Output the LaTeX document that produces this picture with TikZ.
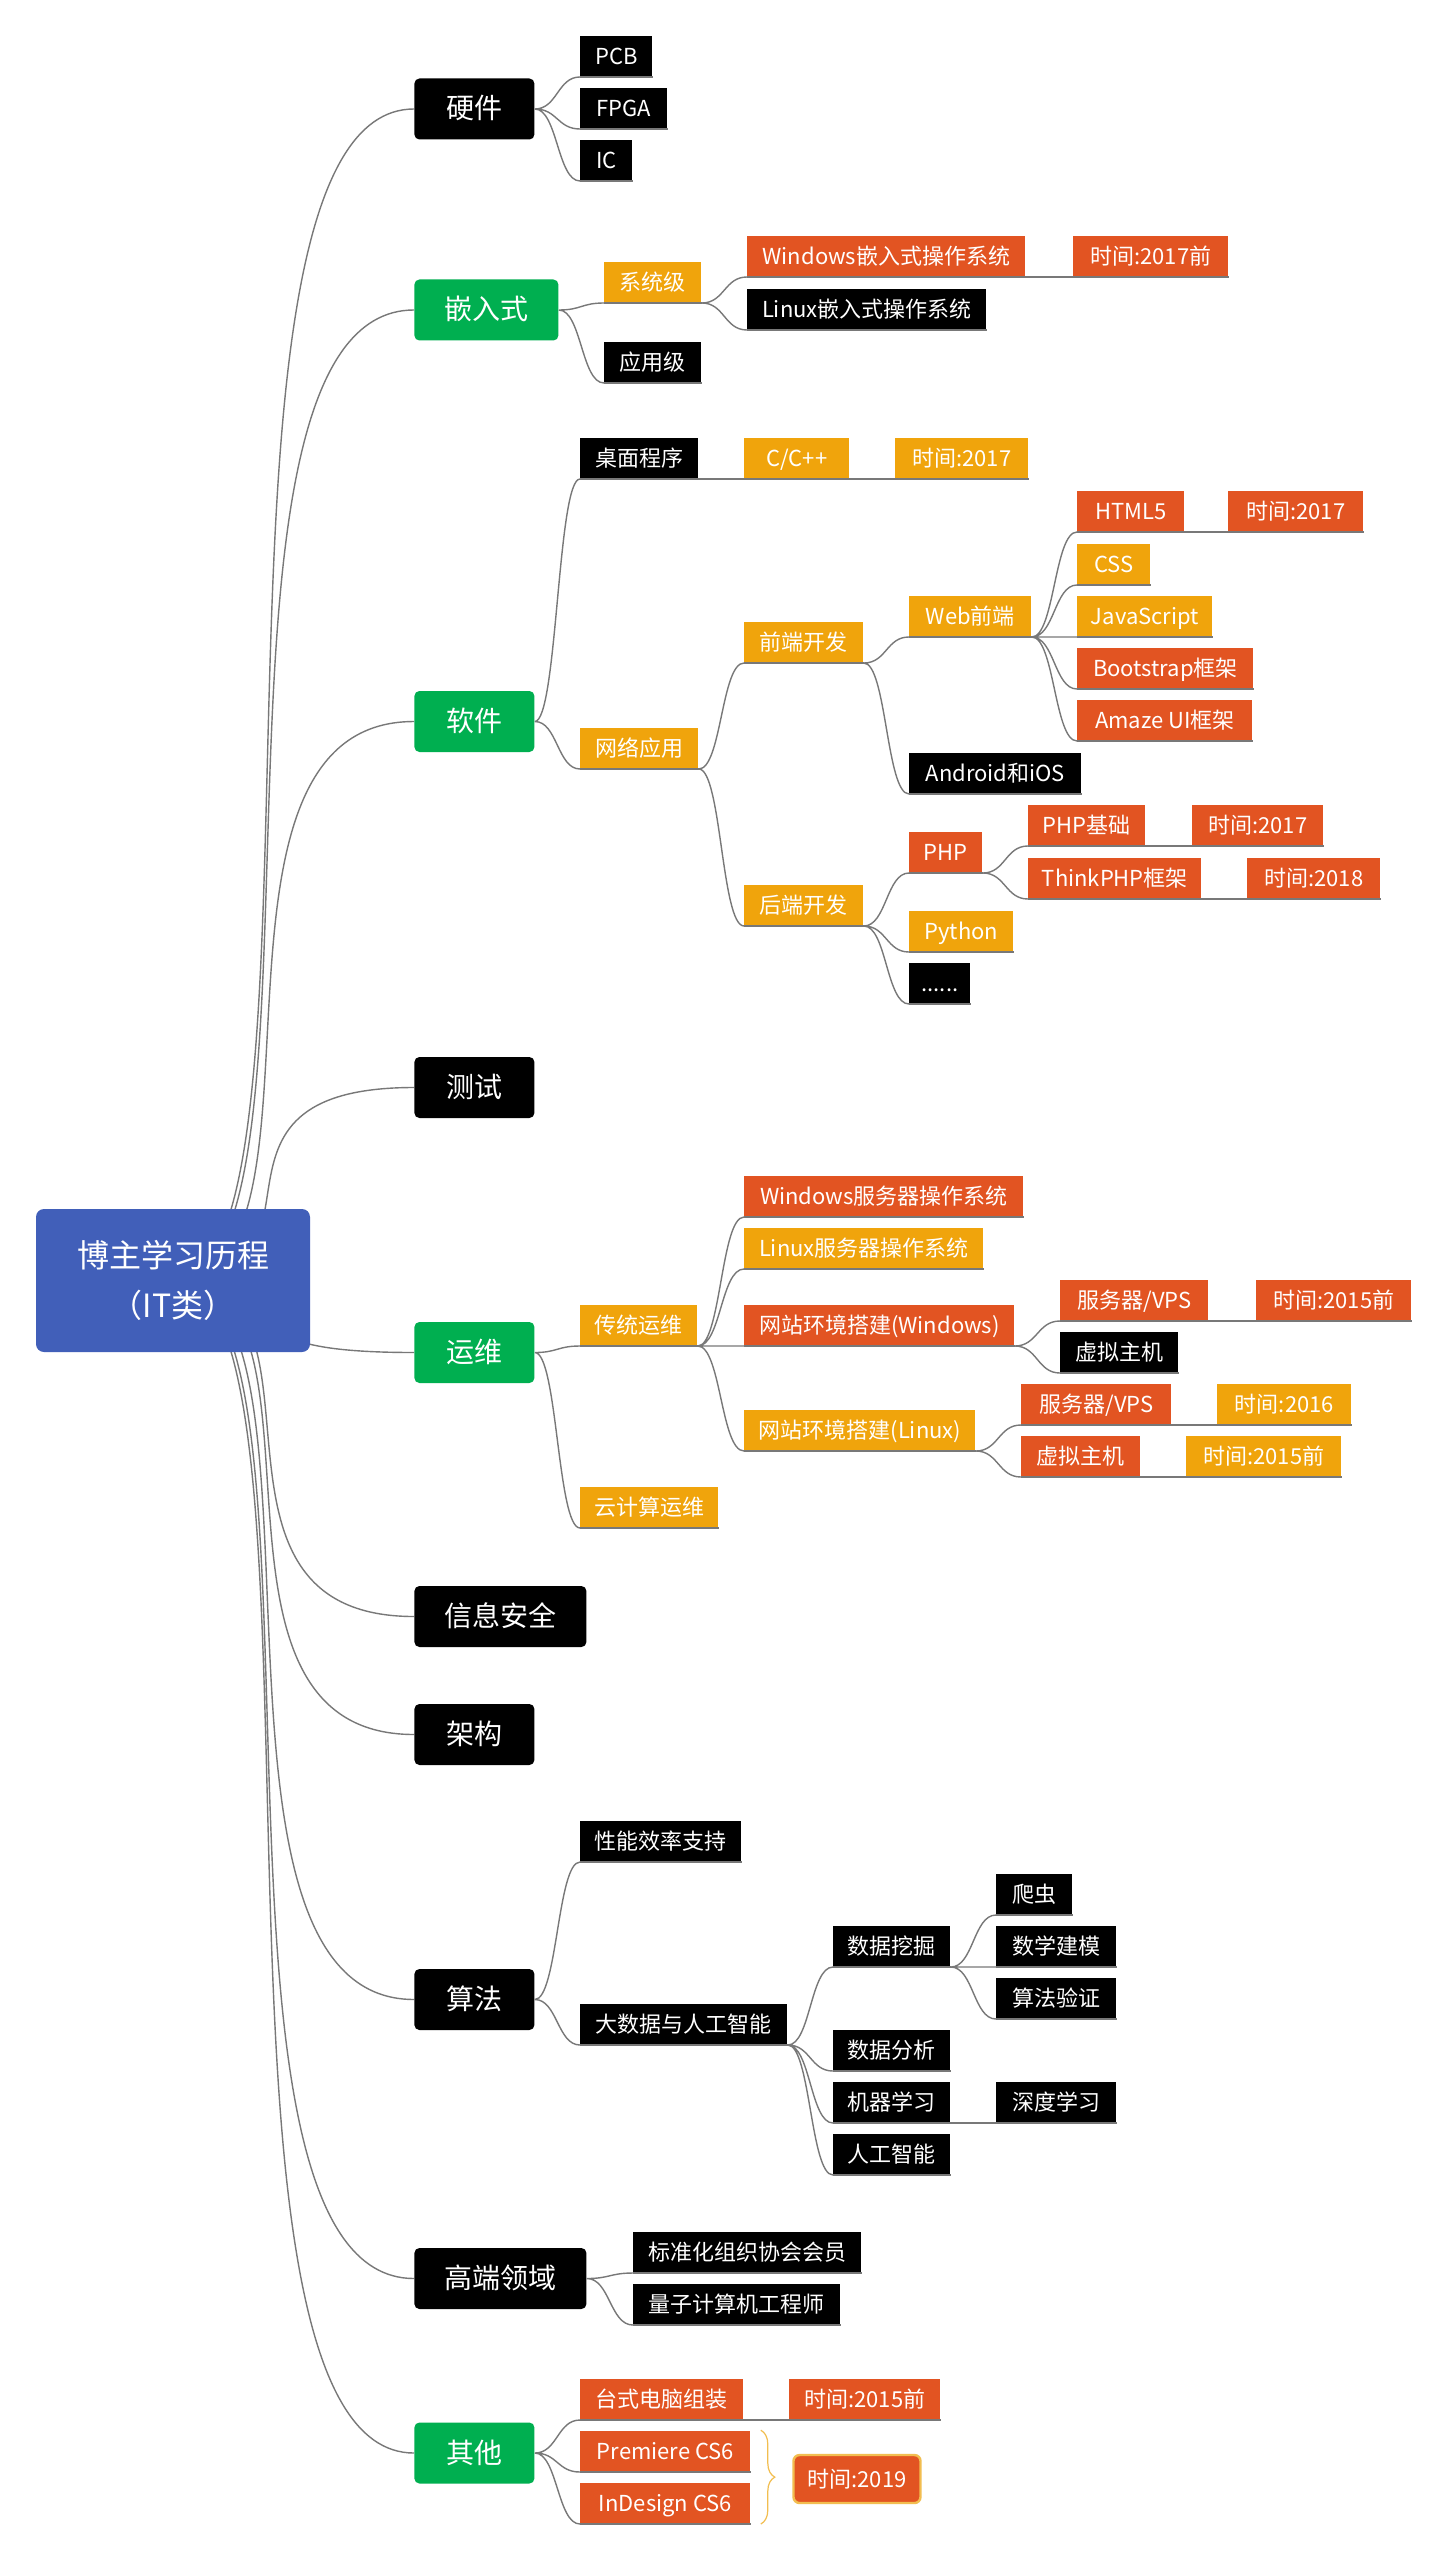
\documentclass[tikz,border=0pt]{standalone}
\usepackage{fontspec}
\setmainfont{Noto Sans CJK SC}
\usetikzlibrary{calc, backgrounds, decorations.pathreplacing}
\definecolor{hubblue}{RGB}{65,95,185}
\definecolor{mgreen}{RGB}{0,175,80}
\definecolor{mamber}{RGB}{240,164,12}
\definecolor{mbrick}{RGB}{226,84,34}
\definecolor{mline}{RGB}{120,120,120}
\definecolor{mbrace}{RGB}{242,190,80}

\begin{document}
\begin{tikzpicture}[x=0.5pt, y=-0.5pt,
  hub/.style={rounded corners=4pt,fill=hubblue,text=white,font=\fontsize{16}{25}\selectfont,
              align=center,minimum width=137pt,minimum height=71.5pt,inner sep=0pt},
  topic/.style={rounded corners=2.5pt,text=white,font=\fontsize{14}{16}\selectfont,
                text height=12pt,text depth=2pt,minimum width=60pt,minimum height=30.5pt,
                inner sep=0pt,anchor=west},
  item/.style={text=white,font=\fontsize{11}{13}\selectfont,text height=9.5pt,text depth=1.5pt,
               minimum height=20.5pt,inner xsep=4pt,inner ysep=0pt,anchor=south west,
               append after command={(\tikzlastnode.south west) edge[link] (\tikzlastnode.south east)}},
  bk/.style={fill=black}, gr/.style={fill=mgreen}, og/.style={fill=mamber}, rd/.style={fill=mbrick},
  link/.style={draw=mline,line width=0.7pt},
  trunk/.style={to path={.. controls ($(\tikztostart)+(176,0)$) and (\tikztostart |- \tikztotarget) .. (\tikztotarget)}},
  branch/.style={to path={.. controls ($(\tikztostart)!.5!(\tikztotarget |- \tikztostart)$)
                 and ($(\tikztotarget)!.5!(\tikztostart |- \tikztotarget)$) .. (\tikztotarget)}},
  brace/.style={draw=mbrace,line width=0.6pt,decorate,decoration={brace,amplitude=7pt}}
]
\useasboundingbox (0,0) rectangle (1440,2568);

\node[hub] (root) at (173,1280.5) {博主学习历程\\（IT类）};

\node[topic,bk] (hw)   at (414,109)    {硬件};
\node[topic,gr,minimum width=72pt] (emb) at (414,310) {嵌入式};
\node[topic,gr] (sw)   at (414,721.5)  {软件};
\node[topic,bk] (test) at (414,1087.5) {测试};
\node[topic,gr] (ops)  at (414,1352.5) {运维};
\node[topic,bk,minimum width=86pt] (sec) at (414,1616.5) {信息安全};
\node[topic,bk] (arch) at (414,1734.5) {架构};
\node[topic,bk] (algo) at (414,1999.5) {算法};
\node[topic,bk,minimum width=86pt] (high) at (414,2278.5) {高端领域};
\node[topic,gr] (misc) at (414,2453)   {其他};

\node[item,bk,minimum width=36pt]   (pcb)  at (580,77)  {PCB};
\node[item,bk,minimum width=43.5pt] (fpga) at (580,129) {FPGA};
\node[item,bk,minimum width=26pt]   (ic)   at (580,181) {IC};

\node[item,og,minimum width=48.5pt] (syslv)  at (604,303)  {系统级};
\node[item,bk,minimum width=48.5pt] (applv)  at (604,383)  {应用级};
\node[item,rd,minimum width=139pt]  (winemb) at (747,277)  {Windows嵌入式操作系统};
\node[item,bk,minimum width=119.5pt] (linemb) at (747,330) {Linux嵌入式操作系统};
\node[item,rd,minimum width=77.5pt] (t1)     at (1073,277) {时间:2017前};

\node[item,bk,minimum width=59pt]   (desk)  at (580,479)  {桌面程序};
\node[item,og,minimum width=52.5pt] (cpp)   at (744,479)  {C/C++};
\node[item,og,minimum width=66.5pt] (t2)    at (895,479)  {时间:2017};
\node[item,og,minimum width=59pt]   (net)   at (580,769)  {网络应用};
\node[item,og,minimum width=59.5pt] (front) at (744,663)  {前端开发};
\node[item,og,minimum width=59.5pt] (back)  at (744,926)  {后端开发};
\node[item,og,minimum width=61pt]   (web)   at (909,637)  {Web前端};
\node[item,bk,minimum width=86pt]   (app)   at (909,794)  {Android和iOS};
\node[item,rd,minimum width=36.5pt] (php)   at (909,873)  {PHP};
\node[item,og,minimum width=52pt]   (py)    at (909,952)  {Python};
\node[item,bk,minimum width=30.5pt] (etc)   at (909,1004) {......};
\node[item,rd,minimum width=53.5pt] (html)  at (1077,532) {HTML5};
\node[item,rd,minimum width=67.5pt] (t3)    at (1228,532) {时间:2017};
\node[item,og,minimum width=36.5pt] (css)   at (1077,585) {CSS};
\node[item,og,minimum width=67.5pt] (js)    at (1077,637) {JavaScript};
\node[item,rd,minimum width=88pt]   (bs)    at (1077,689) {Bootstrap框架};
\node[item,rd,minimum width=87.5pt] (amaze) at (1077,741) {Amaze UI框架};
\node[item,rd,minimum width=58.5pt] (phpb)  at (1028,846) {PHP基础};
\node[item,rd,minimum width=65.5pt] (t4)    at (1192,846) {时间:2017};
\node[item,rd,minimum width=86.5pt] (tp)    at (1028,899) {ThinkPHP框架};
\node[item,rd,minimum width=66.5pt] (t5)    at (1247,899) {时间:2018};

\node[item,og,minimum width=58.5pt]  (trad)   at (580,1346)  {传统运维};
\node[item,og,minimum width=69pt]    (cloud)  at (580,1528)  {云计算运维};
\node[item,rd,minimum width=139.5pt] (winsrv) at (744,1217)  {Windows服务器操作系统};
\node[item,og,minimum width=119.5pt] (linsrv) at (744,1269)  {Linux服务器操作系统};
\node[item,rd,minimum width=135pt]   (webwin) at (744,1346)  {网站环境搭建(Windows)};
\node[item,og,minimum width=115.5pt] (weblin) at (744,1451)  {网站环境搭建(Linux)};
\node[item,rd,minimum width=74pt]    (vps1)   at (1060,1321) {服务器/VPS};
\node[item,rd,minimum width=77.5pt]  (t6)     at (1256,1321) {时间:2015前};
\node[item,bk,minimum width=59pt]    (vh1)    at (1060,1373) {虚拟主机};
\node[item,rd,minimum width=75pt]    (vps2)   at (1021,1425) {服务器/VPS};
\node[item,og,minimum width=67pt]    (t7)     at (1217,1425) {时间:2016};
\node[item,rd,minimum width=59.5pt]  (vh2)    at (1021,1477) {虚拟主机};
\node[item,og,minimum width=77.5pt]  (t8)     at (1186,1477) {时间:2015前};

\node[item,bk,minimum width=80.5pt]  (perf)    at (580,1862) {性能效率支持};
\node[item,bk,minimum width=103.5pt] (bigdata) at (580,2045) {大数据与人工智能};
\node[item,bk,minimum width=58.5pt]  (mining)  at (833,1967) {数据挖掘};
\node[item,bk,minimum width=58.5pt]  (anal)    at (833,2071) {数据分析};
\node[item,bk,minimum width=58.5pt]  (ml)      at (833,2123) {机器学习};
\node[item,bk,minimum width=58.5pt]  (ai)      at (833,2175) {人工智能};
\node[item,bk,minimum width=38pt]    (crawl)   at (996,1915) {爬虫};
\node[item,bk,minimum width=60pt]    (model)   at (996,1967) {数学建模};
\node[item,bk,minimum width=60pt]    (verify)  at (996,2019) {算法验证};
\node[item,bk,minimum width=60pt]    (dl)      at (996,2123) {深度学习};

\node[item,bk,minimum width=114pt]   (std) at (633,2273) {标准化组织协会会员};
\node[item,bk,minimum width=103.5pt] (qc)  at (633,2325) {量子计算机工程师};

\node[item,rd,minimum width=81.5pt] (pc) at (580,2420) {台式电脑组装};
\node[item,rd,minimum width=75.5pt] (t9) at (789,2420) {时间:2015前};
\node[item,rd,minimum width=85pt]   (pr) at (580,2472) {Premiere CS6};
\node[item,rd,minimum width=85pt]   (id) at (580,2524) {InDesign CS6};
\node[rd,rounded corners=3pt,draw=mbrace,line width=1.2pt,text=white,font=\fontsize{11}{13}\selectfont,
      minimum width=63.5pt,minimum height=24pt,inner sep=0pt] (t10) at (857,2479) {时间:2019};
\draw[brace] ($(pr.north east)+(10,0)$) -- ($(id.south east)+(10,0)$);

\begin{scope}[on background layer]
\fill[white] (0,0) rectangle (1440,2568);
\draw[link] (root.center) to[trunk] (hw.west)   (root.center) to[trunk] (emb.west)
            (root.center) to[trunk] (sw.west)   (root.center) to[trunk] (test.west)
            (root.center) to[trunk] (ops.west)  (root.center) to[trunk] (sec.west)
            (root.center) to[trunk] (arch.west) (root.center) to[trunk] (algo.west)
            (root.center) to[trunk] (high.west) (root.center) to[trunk] (misc.west);
\draw[link] (hw.east) to[branch] (pcb.south west) (hw.east) to[branch] (fpga.south west)
            (hw.east) to[branch] (ic.south west);
\draw[link] (emb.east) to[branch] (syslv.south west) (emb.east) to[branch] (applv.south west);
\draw[link] (syslv.south east) to[branch] (winemb.south west) (syslv.south east) to[branch] (linemb.south west);
\draw[link] (winemb.south east) to[branch] (t1.south west);
\draw[link] (sw.east) to[branch] (desk.south west) (sw.east) to[branch] (net.south west);
\draw[link] (desk.south east) to[branch] (cpp.south west) (cpp.south east) to[branch] (t2.south west);
\draw[link] (net.south east) to[branch] (front.south west) (net.south east) to[branch] (back.south west);
\draw[link] (front.south east) to[branch] (web.south west) (front.south east) to[branch] (app.south west);
\draw[link] (web.south east) to[branch] (html.south west) (web.south east) to[branch] (css.south west)
            (web.south east) to[branch] (js.south west)   (web.south east) to[branch] (bs.south west)
            (web.south east) to[branch] (amaze.south west);
\draw[link] (html.south east) to[branch] (t3.south west);
\draw[link] (back.south east) to[branch] (php.south west) (back.south east) to[branch] (py.south west)
            (back.south east) to[branch] (etc.south west);
\draw[link] (php.south east) to[branch] (phpb.south west) (php.south east) to[branch] (tp.south west);
\draw[link] (phpb.south east) to[branch] (t4.south west) (tp.south east) to[branch] (t5.south west);
\draw[link] (ops.east) to[branch] (trad.south west) (ops.east) to[branch] (cloud.south west);
\draw[link] (trad.south east) to[branch] (winsrv.south west) (trad.south east) to[branch] (linsrv.south west)
            (trad.south east) to[branch] (webwin.south west) (trad.south east) to[branch] (weblin.south west);
\draw[link] (webwin.south east) to[branch] (vps1.south west) (webwin.south east) to[branch] (vh1.south west);
\draw[link] (vps1.south east) to[branch] (t6.south west);
\draw[link] (weblin.south east) to[branch] (vps2.south west) (weblin.south east) to[branch] (vh2.south west);
\draw[link] (vps2.south east) to[branch] (t7.south west) (vh2.south east) to[branch] (t8.south west);
\draw[link] (algo.east) to[branch] (perf.south west) (algo.east) to[branch] (bigdata.south west);
\draw[link] (bigdata.south east) to[branch] (mining.south west) (bigdata.south east) to[branch] (anal.south west)
            (bigdata.south east) to[branch] (ml.south west)     (bigdata.south east) to[branch] (ai.south west);
\draw[link] (mining.south east) to[branch] (crawl.south west) (mining.south east) to[branch] (model.south west)
            (mining.south east) to[branch] (verify.south west);
\draw[link] (ml.south east) to[branch] (dl.south west);
\draw[link] (high.east) to[branch] (std.south west) (high.east) to[branch] (qc.south west);
\draw[link] (misc.east) to[branch] (pc.south west) (misc.east) to[branch] (pr.south west)
            (misc.east) to[branch] (id.south west);
\draw[link] (pc.south east) to[branch] (t9.south west);
\end{scope}
\end{tikzpicture}
\end{document}
